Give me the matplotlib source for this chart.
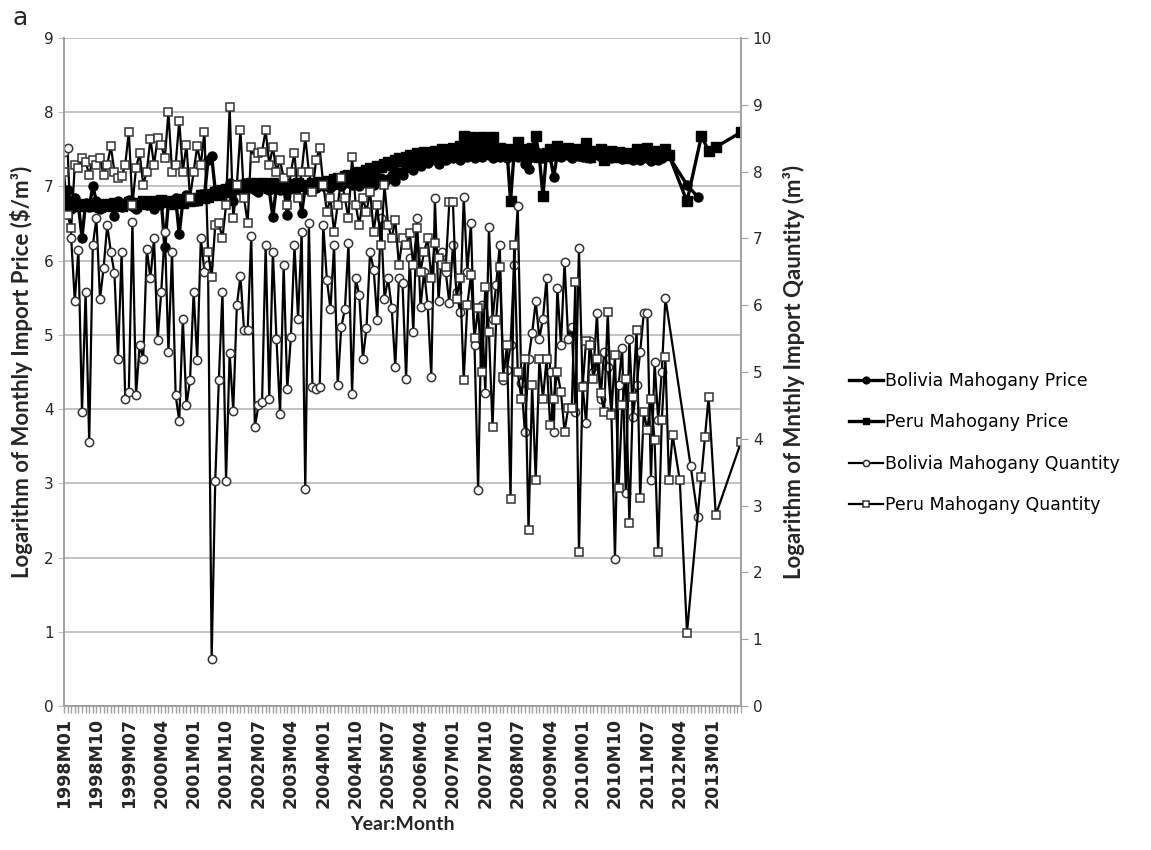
import numpy as np
import matplotlib
matplotlib.use("Agg")
import matplotlib.pyplot as plt

nan = np.nan

# categories: monthly, 1998M01 .. 2013M09
months = [f"{y}M{m:02d}" for y in range(1998, 2014) for m in range(1, 13)][:189]

# log monthly import price ($/m3), left axis
bolivia_price = [
    6.80, 6.95, 6.70, 6.85, 6.75, 6.31, 6.78, 6.72, 7.00, 6.80, 6.70, 6.76,  # 1998
    6.74, 6.78, 6.60, 6.80, 6.72, 6.76, 6.82, 6.74, 6.70, 6.78, 6.80, 6.75,  # 1999
    6.80, 6.70, 6.76, 6.82, 6.18, 6.80, 6.78, 6.84, 6.36, 6.80, 6.88, 6.82,  # 2000
    6.85, 6.80, 6.90, 6.88, 7.35, 7.41, 6.95, 6.90, 6.92, 6.95, 7.05, 6.80,  # 2001
    7.00, 6.95, 7.05, 6.98, 7.02, 6.95, 6.92, 7.05, 7.00, 6.95, 6.59, 7.00,  # 2002
    6.95, 7.02, 6.61, 7.00, 6.98, 7.05, 6.64, 7.00, 6.95, 7.02, 6.98, 7.05,  # 2003
    7.00, 7.05, 6.98, 7.02, 7.06, 7.00, 7.04, 7.08, 7.02, 7.05, 7.00, 7.07,  # 2004
    7.05, 7.10, 7.02, 7.08, 7.12, 7.05, 7.10, 7.15, 7.08, 7.20, 7.15, 7.25,  # 2005
    7.30, 7.22, 7.35, 7.28, 7.38, 7.32, 7.40, 7.35, 7.30, 7.42, 7.36, 7.40,  # 2006
    7.38, 7.44, 7.35, 7.42, 7.40, 7.45, 7.38, 7.43, 7.40, 7.46, 7.42, 7.38,  # 2007
    7.44, 7.40, 7.45, 7.38, 7.42, 7.46, 7.40, 7.44, 7.30, 7.23, 7.40, 7.43,  # 2008
    7.45, 7.38, 7.42, 7.40, 7.13, 7.44, 7.40, 7.46, 7.42, 7.38, 7.44, 7.41,  # 2009
    7.40, 7.45, 7.38, 7.42, 7.44, 7.40, 7.36, 7.42, 7.38, 7.44, 7.40, 7.37,  # 2010
    7.42, 7.38, 7.35, 7.40, 7.36, 7.42, 7.38, 7.34, 7.40, 7.36, 7.38, 7.48,  # 2011
    nan, nan, nan, nan, nan, 7.02, nan, nan, 6.86, nan, nan, nan,            # 2012
    nan, nan, nan, nan, nan, nan, nan, nan, nan,                             # 2013
]
peru_price = [
    6.75, 6.72, 6.78, 6.74, 6.76, 6.73, 6.75, 6.77, 6.74, 6.76, 6.72, 6.75,
    6.76, 6.74, 6.78, 6.75, 6.73, 6.77, 6.79, 6.76, 6.74, 6.78, 6.80, 6.77,
    6.78, 6.80, 6.76, 6.82, 6.79, 6.81, 6.77, 6.80, 6.83, 6.78, 6.82, 6.80,
    6.85, 6.82, 6.88, 6.84, 6.86, 6.90, 6.92, 6.88, 6.95, 6.97, 6.93, 7.00,
    6.98, 7.02, 6.96, 7.00, 7.04, 6.99, 7.03, 7.05, 7.01, 6.98, 7.04, 7.02,
    7.00, 6.97, 7.03, 7.01, 6.98, 7.04, 7.00, 7.02, 6.99, 7.05, 7.03, 7.06,
    7.04, 7.08, 7.06, 7.10, 7.12, 7.09, 7.14, 7.16, 7.13, 7.18, 7.20, 7.17,
    7.22, 7.25, 7.21, 7.28, 7.26, 7.30, 7.33, 7.29, 7.35, 7.38, 7.34, 7.40,
    7.42, 7.38, 7.45, 7.41, 7.47, 7.44, 7.40, 7.48, 7.46, 7.50, 7.43, 7.49,
    7.52, 7.47, 7.55, 7.68, 7.50, 7.66, 7.58, 7.53, 7.67, 7.62, 7.55, 7.66,
    7.48, 7.52, 7.45, 7.50, 6.80, 7.46, 7.60, 7.48, 7.44, 7.50, 7.52, 7.68,
    7.40, 6.87, 7.45, 7.50, 7.42, 7.55, 7.48, 7.44, 7.52, 7.47, 7.43, 7.50,
    7.46, 7.58, 7.40, 7.48, 7.44, 7.50, 7.36, 7.45, 7.48, 7.40, 7.46, 7.43,
    7.38, 7.45, 7.40, 7.50, 7.42, 7.47, 7.52, 7.44, 7.40, 7.48, 7.45, 7.50,
    7.42, nan, nan, nan, nan, 6.80, nan, nan, nan, 7.68, nan, 7.48,
    nan, 7.53, nan, nan, nan, nan, nan, nan, 7.73,
]

# log monthly import quantity (m3), right axis
bolivia_qty = [
    8.30, 8.35, 7.00, 6.06, 6.83, 4.40, 6.20, 3.95, 6.90, 7.30, 6.09, 6.56,
    7.20, 6.80, 6.48, 5.20, 6.80, 4.60, 4.70, 7.25, 4.65, 5.40, 5.20, 6.84,
    6.40, 7.00, 5.48, 6.20, 7.10, 5.30, 6.80, 4.65, 4.27, 5.80, 4.50, 4.88,
    6.20, 5.18, 7.00, 6.50, 6.60, 0.70, 3.37, 4.88, 6.20, 3.37, 5.28, 4.42,
    6.00, 6.44, 5.63, 5.63, 7.04, 4.18, 4.50, 4.55, 6.90, 4.60, 6.80, 5.50,
    4.37, 6.60, 4.74, 5.52, 6.90, 5.80, 7.10, 3.25, 7.23, 4.77, 4.75, 4.77,
    7.20, 6.38, 5.94, 6.90, 4.80, 5.67, 5.94, 6.93, 4.67, 6.40, 6.15, 5.20,
    5.66, 6.80, 6.53, 5.78, 7.30, 6.10, 6.40, 5.96, 5.07, 6.40, 6.33, 4.90,
    6.70, 5.60, 7.30, 5.97, 6.50, 6.00, 4.93, 7.60, 6.07, 6.80, 6.50, 6.03,
    6.90, 6.20, 5.90, 7.62, 6.50, 7.23, 5.40, 3.23, 6.00, 4.69, 7.17, 5.80,
    6.30, 6.90, 4.88, 5.03, 5.40, 6.60, 7.48, 4.83, 4.10, 5.20, 5.58, 6.06,
    5.50, 5.80, 6.40, 5.00, 4.10, 6.26, 5.40, 6.65, 5.50, 5.67, 4.40, 6.86,
    4.80, 4.23, 5.47, 5.00, 5.88, 4.60, 5.30, 5.07, 4.40, 2.20, 4.80, 5.36,
    3.19, 5.49, 4.33, 4.80, 5.30, 5.88, 5.88, 3.38, 5.15, 4.28, 5.00, 6.11,
    nan, nan, nan, nan, nan, nan, 3.60, nan, 2.83, nan, nan, nan,
    nan, nan, nan, nan, nan, nan, nan, nan, nan,
]
peru_qty = [
    8.00, 7.35, 7.15, 8.10, 8.05, 8.20, 8.15, 7.95, 8.18, 8.10, 8.20, 7.95,
    8.10, 8.38, 8.00, 7.90, 7.93, 8.10, 8.60, 7.50, 8.05, 8.28, 7.80, 8.00,
    8.49, 8.10, 8.50, 8.40, 8.20, 8.89, 8.00, 8.10, 8.76, 8.00, 8.40, 7.60,
    8.00, 8.38, 8.10, 8.60, 6.80, 6.42, 7.20, 7.23, 7.00, 7.50, 8.97, 7.30,
    7.80, 8.62, 7.60, 7.23, 8.37, 8.20, 8.28, 8.30, 8.62, 8.10, 8.37, 8.00,
    8.17, 7.90, 7.50, 8.00, 8.28, 7.60, 8.00, 8.52, 8.00, 7.70, 8.17, 8.35,
    7.80, 7.40, 7.60, 7.10, 7.50, 7.90, 7.60, 7.30, 8.22, 7.50, 7.20, 7.60,
    7.40, 7.70, 7.10, 7.50, 6.90, 7.80, 7.20, 7.00, 7.28, 6.60, 7.00, 6.90,
    7.08, 6.60, 7.16, 6.50, 6.80, 7.00, 6.40, 6.93, 6.70, 6.60, 6.57, 7.54,
    7.54, 6.10, 6.40, 4.88, 6.00, 6.45, 5.51, 5.96, 5.00, 6.27, 5.60, 4.18,
    5.78, 6.57, 4.93, 5.40, 3.10, 6.90, 5.00, 4.60, 5.20, 2.63, 4.80, 3.38,
    5.19, 4.60, 5.19, 4.20, 4.60, 5.00, 4.70, 4.10, 4.46, 4.46, 6.35, 2.30,
    4.78, 5.47, 5.40, 4.90, 5.20, 4.69, 4.40, 5.90, 4.36, 5.25, 3.26, 4.50,
    4.90, 2.74, 4.63, 5.63, 3.11, 4.40, 4.13, 4.60, 3.98, 2.31, 4.28, 5.22,
    3.38, 4.06, nan, 3.38, nan, 1.10, nan, nan, nan, 3.43, 4.03, 4.63,
    nan, 2.86, nan, nan, nan, nan, nan, nan, 3.95,
]

legend_labels = ["Bolivia Mahogany Price", "Peru Mahogany Price",
                 "Bolivia Mahogany Quantity", "Peru Mahogany Quantity"]

GRID = "#bdbdbd"
AXC = "#a0a0a0"
TXT = "#262626"


def series(vals):
    # drop empty months so the line joins across gaps (like Excel)
    v = np.asarray(vals, dtype=float)
    x = np.arange(len(v))
    ok = ~np.isnan(v)
    return x[ok], v[ok]


fig = plt.figure(figsize=(11.51, 8.5), dpi=100)
ax = fig.add_axes([64 / 1151, 1 - 706 / 850, (741 - 64) / 1151, (706 - 38) / 850])
ax2 = ax.twinx()

x, y = series(bolivia_price)
h1, = ax.plot(x, y, color="black", lw=2.4, marker="o", ms=6.5, mfc="black",
              mec="black", label=legend_labels[0])
x, y = series(peru_price)
h2, = ax.plot(x, y, color="black", lw=2.4, marker="s", ms=6.5, mfc="black",
              mec="black", label=legend_labels[1])
x, y = series(bolivia_qty)
h3, = ax2.plot(x, y, color="black", lw=1.6, marker="o", ms=6, mfc="white",
               mec="#333333", mew=1.1, label=legend_labels[2])
x, y = series(peru_qty)
h4, = ax2.plot(x, y, color="black", lw=1.6, marker="s", ms=6, mfc="white",
               mec="#333333", mew=1.1, label=legend_labels[3])

ax.set_xlim(0, len(months) - 1)
ax.set_ylim(0, 9)
ax2.set_ylim(0, 10)
ax.set_yticks(range(10))
ax2.set_yticks(range(11))
ax.yaxis.grid(True, color=GRID, lw=1.3)
ax.set_axisbelow(True)

ax.set_xticks(range(0, len(months), 9))
ax.set_xticklabels(months[::9], rotation=90, fontsize=12.5, fontweight="bold",
                   color=TXT)
ax.set_xticks(range(len(months)), minor=True)
ax.tick_params(axis="x", which="both", length=5, color=AXC, width=1)
ax.tick_params(axis="y", length=4, color=GRID, labelsize=11, labelcolor=TXT)
ax2.tick_params(axis="y", length=5, color=AXC, labelsize=11, labelcolor=TXT)

for a in (ax, ax2):
    a.spines["top"].set_visible(False)
    for s in ("left", "right", "bottom"):
        a.spines[s].set_color(AXC)
        a.spines[s].set_linewidth(1.2)

lab_font = dict(family="Lato", weight="bold", fontsize=16, color=TXT)
ax.set_ylabel("Logarithm of Monthly Import Price ($/m³)", labelpad=8, **lab_font)
ax2.set_ylabel("Logarithm of Mnthly Import Qauntity (m³)", labelpad=8, **lab_font)
ax.set_xlabel("Year:Month", labelpad=6, family="Lato", weight="bold",
              fontsize=14, color=TXT)

fig.legend(handles=[h1, h2, h3, h4], loc="center left",
           bbox_to_anchor=(833 / 1151, 1 - 443 / 850), frameon=False,
           fontsize=12.5, handlelength=2.0, handletextpad=0.1, labelspacing=1.35,
           markerscale=0.75)

fig.text(12 / 1151, 1 - 18 / 850, "a", fontsize=18, va="center", ha="left", color=TXT)

fig.savefig("out.png", dpi=100)
